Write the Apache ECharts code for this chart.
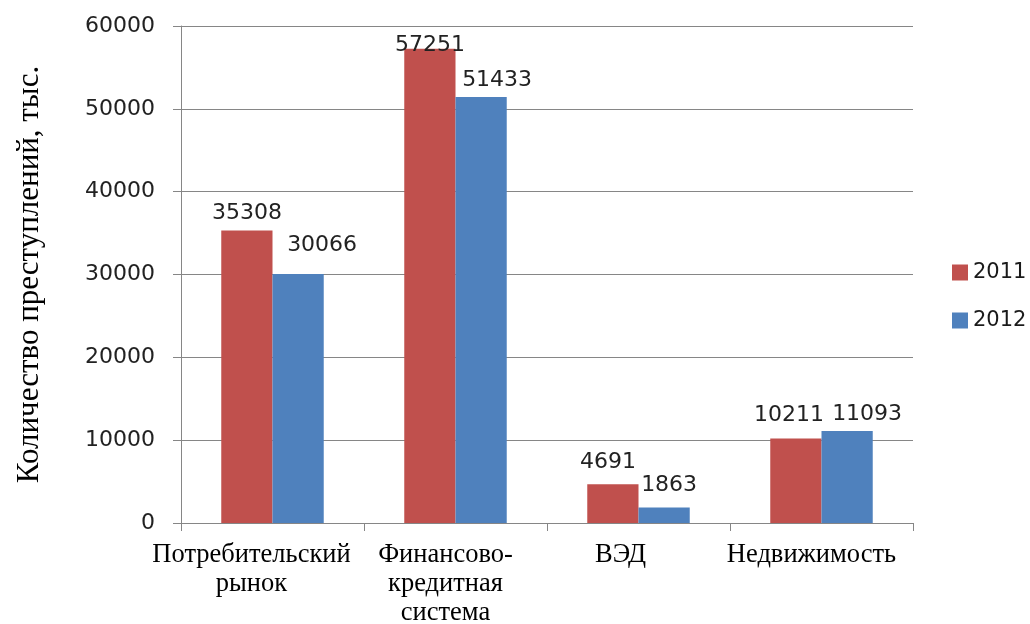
<!DOCTYPE html>
<html>
<head>
<meta charset="utf-8">
<script src="https://cdn.jsdelivr.net/npm/echarts@6/dist/echarts.min.js"></script>
<style>
  html, body { margin: 0; padding: 0; background: #ffffff; }
  #chart { width: 1030px; height: 624px; }
</style>
</head>
<body>
<div id="chart"></div>
<script>
// Категории и значения (количество преступлений, тыс.)
const categories = ['Потребительский\nрынок', 'Финансово-\nкредитная\nсистема', 'ВЭД', 'Недвижимость'];
const values2011 = [35308, 57251, 4691, 10211];
const values2012 = [30066, 51433, 1863, 11093];
const seriesNames = ['2011', '2012'];
const yTicks = { min: 0, max: 60000, interval: 10000 };

// Сдвиги подписей значений, чтобы они не налезали друг на друга
const labelShift2011 = [[0, 0], [0, 14], [-5, -5], [-7, -6]];
const labelShift2012 = [[24, -12], [16, 0], [5, -5], [20, 0]];
// Сдвиг подписей категорий влево (px)
const categoryLabelShift = [21, 10, 18, 10];

const SANS = '"DejaVu Sans", sans-serif';
const SERIF = '"Liberation Serif", "Times New Roman", serif';
const GRID_COLOR = '#868686';

function withLabels(values, shifts) {
  return values.map((v, i) => ({
    value: v,
    label: { offset: shifts[i] }
  }));
}

const categoryData = categories.map((c, i) => ({
  value: c,
  textStyle: { padding: [0, categoryLabelShift[i] * 2, 0, 0] }
}));

const chart = echarts.init(document.getElementById('chart'), null, { renderer: 'canvas' });

chart.setOption({
  animation: false,
  backgroundColor: '#ffffff',
  color: ['#C0504D', '#4F81BD'],
  grid: {
    left: 181, right: 117, top: 26, bottom: 101,
    containLabel: false,
    outerBoundsMode: 'none'
  },
  legend: {
    orient: 'vertical',
    left: 947,
    top: 257,
    itemWidth: 16,
    itemHeight: 16,
    itemGap: 27,
    icon: 'rect',
    textStyle: { fontFamily: SANS, fontSize: 21, color: '#1a1a1a' },
    data: seriesNames
  },
  xAxis: {
    type: 'category',
    data: categoryData,
    axisLine: { show: true, lineStyle: { color: GRID_COLOR, width: 1 } },
    axisTick: { show: true, length: 8, lineStyle: { color: GRID_COLOR } },
    axisLabel: {
      fontFamily: SERIF,
      fontSize: 26.5,
      lineHeight: 29,
      color: '#000000',
      margin: 18,
      interval: 0
    }
  },
  yAxis: {
    type: 'value',
    min: yTicks.min,
    max: yTicks.max,
    interval: yTicks.interval,
    name: 'Количество преступлений, тыс.',
    nameLocation: 'middle',
    nameGap: 136,
    nameTextStyle: { fontFamily: SERIF, fontSize: 31, color: '#000000' },
    axisLine: { show: true, lineStyle: { color: GRID_COLOR, width: 1 } },
    axisTick: { show: true, length: 8, lineStyle: { color: GRID_COLOR } },
    axisLabel: {
      fontFamily: SANS,
      fontSize: 22,
      color: '#222222',
      margin: 26,
      formatter: v => String(v)
    },
    splitLine: { show: true, lineStyle: { color: GRID_COLOR, width: 1 } }
  },
  series: [
    {
      name: seriesNames[0],
      type: 'bar',
      data: withLabels(values2011, labelShift2011),
      barGap: '0%',
      barCategoryGap: '44%',
      label: { show: true, position: 'top', distance: 6, fontFamily: SANS, fontSize: 22, color: '#222222' }
    },
    {
      name: seriesNames[1],
      type: 'bar',
      data: withLabels(values2012, labelShift2012),
      barGap: '0%',
      barCategoryGap: '44%',
      label: { show: true, position: 'top', distance: 6, fontFamily: SANS, fontSize: 22, color: '#222222' }
    }
  ]
});
</script>
</body>
</html>
